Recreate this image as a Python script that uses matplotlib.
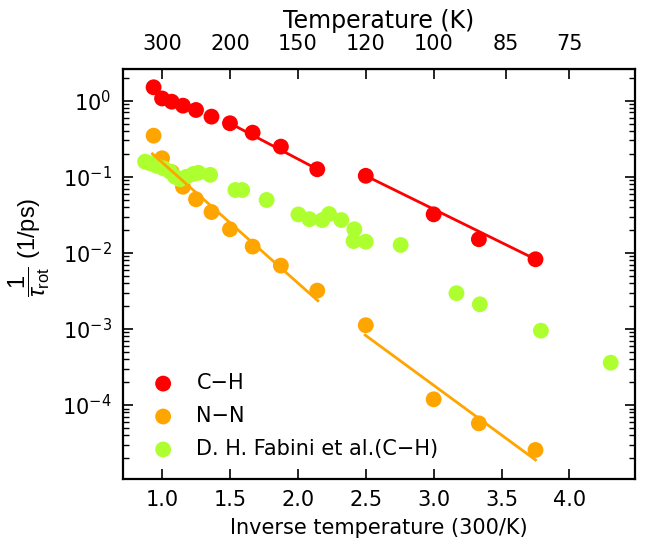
import numpy as np
import matplotlib
matplotlib.use("Agg")
import matplotlib.pyplot as plt
from matplotlib.ticker import LogLocator, NullFormatter, FixedLocator

plt.rcParams['font.family'] = ['DejaVu Sans']
plt.rcParams['mathtext.fontset'] = 'custom'
plt.rcParams['mathtext.rm'] = 'Liberation Sans'
plt.rcParams['mathtext.it'] = 'Liberation Sans:italic'
plt.rcParams['mathtext.bf'] = 'Liberation Sans:bold'

# Inverse temperature 300/T and rotation rates 1/tau_rot (1/ps)
ch_x = [0.9375, 1.0, 1.071, 1.154, 1.25, 1.364, 1.5, 1.667, 1.875, 2.143,
        2.5, 3.0, 3.333, 3.75]
ch_y = [1.50, 1.07, 0.97, 0.86, 0.755, 0.617, 0.505, 0.38, 0.249, 0.1255,
        0.103, 0.0321, 0.0151, 0.00824]

nn_x = [0.9375, 1.0, 1.071, 1.154, 1.25, 1.364, 1.5, 1.667, 1.875, 2.143,
        2.5, 3.0, 3.333, 3.75]
nn_y = [0.347, 0.175, 0.115, 0.074, 0.0506, 0.0344, 0.0204, 0.0121, 0.0068,
        0.00319, 0.00112, 1.19e-4, 5.75e-5, 2.57e-5]

fab_x = [0.875, 0.912, 0.961, 1.01, 1.059, 1.096, 1.133, 1.18, 1.23, 1.267,
         1.354, 1.54, 1.59, 1.77, 2.004, 2.085, 2.18, 2.23, 2.32, 2.416,
         2.41, 2.5, 2.757, 3.168, 3.34, 3.79, 4.304]
fab_y = [0.158, 0.150, 0.139, 0.129, 0.117, 0.100, 0.0927, 0.100, 0.109,
         0.113, 0.106, 0.067, 0.067, 0.0496, 0.032, 0.0277, 0.027, 0.0324,
         0.027, 0.0204, 0.0143, 0.014, 0.0127, 0.00295, 0.00211, 9.5e-4,
         3.6e-4]

# Arrhenius fit segments (end points)
ch_fit1_x = [1.5, 2.144]
ch_fit1_y = [0.505, 0.1255]
ch_fit2_x = [2.5, 3.75]
ch_fit2_y = [0.103, 0.00824]
nn_fit1_x = [0.929, 2.147]
nn_fit1_y = [0.20, 0.00235]
nn_fit2_x = [2.496, 3.75]
nn_fit2_y = [8.3e-4, 1.9e-5]

top_temps = [300, 200, 150, 120, 100, 85, 75]
x_ticks = [1.0, 1.5, 2.0, 2.5, 3.0, 3.5, 4.0]

c_red = '#ff0000'
c_orange = '#ffa500'
c_green = '#adff2f'

fig = plt.figure(figsize=(6.54, 5.51), dpi=100)
ax = fig.add_axes([0.1876, 0.1312, 0.971 - 0.1876, 0.8748 - 0.1312])

ms = 130
ax.scatter(ch_x, ch_y, s=ms, color=c_red, edgecolors='none', label='C\u2212H', zorder=2)
ax.scatter(nn_x, nn_y, s=ms, color=c_orange, edgecolors='none', label='N\u2212N', zorder=2)
ax.scatter(fab_x, fab_y, s=ms, color=c_green, edgecolors='none',
           label='D. H. Fabini et al.(C\u2212H)', zorder=2)

for fx, fy, c in [(ch_fit1_x, ch_fit1_y, c_red), (ch_fit2_x, ch_fit2_y, c_red),
                  (nn_fit1_x, nn_fit1_y, c_orange), (nn_fit2_x, nn_fit2_y, c_orange)]:
    ax.plot(fx, fy, color=c, lw=2.0, zorder=3)

ax.set_yscale('log')
ax.set_xlim(0.71, 4.483)
ax.set_ylim(10 ** -4.968, 10 ** 0.4166)

ax.set_xticks(x_ticks)
ax.set_xticklabels(['%.1f' % v for v in x_ticks])
ax.yaxis.set_major_locator(LogLocator(base=10, numticks=10))
ax.yaxis.set_minor_locator(LogLocator(base=10, subs=np.arange(2, 10), numticks=10))
ax.yaxis.set_minor_formatter(NullFormatter())

for sp in ax.spines.values():
    sp.set_linewidth(1.6)

ax.tick_params(axis='x', which='major', direction='in', length=7, width=1.2,
               labelsize=15, top=False, pad=8)
ax.tick_params(axis='y', which='major', direction='in', length=7, width=1.2,
               labelsize=15, right=True, pad=8)
ax.tick_params(axis='y', which='minor', direction='in', length=4, width=1.0,
               right=True)

ax.set_xlabel('Inverse temperature (300/K)', fontsize=15, labelpad=6)
ax.set_ylabel(r'$\dfrac{1}{\tau_{\mathrm{rot}}}\ \mathrm{(1/ps)}$', fontsize=17, labelpad=0)
ax.yaxis.set_label_coords(-0.137, 0.565)

top = ax.secondary_xaxis('top', functions=(lambda x: 300.0 / np.asarray(x, float),
                                           lambda t: 300.0 / np.asarray(t, float)))
top.xaxis.set_major_locator(FixedLocator(top_temps))
top.set_xticklabels([str(t) for t in top_temps])
top.tick_params(axis='x', which='major', direction='in', length=7, width=1.2,
                labelsize=15, pad=11)
top.tick_params(axis='x', which='minor', length=0)
top.set_xlabel('Temperature (K)', fontsize=17, labelpad=4)

leg = ax.legend(loc='lower left', frameon=False, fontsize=15, scatterpoints=1,
                handletextpad=0.6, labelspacing=0.62, borderaxespad=0.0,
                bbox_to_anchor=(0.022, 0.028))

fig.savefig('out.png', dpi=100)
